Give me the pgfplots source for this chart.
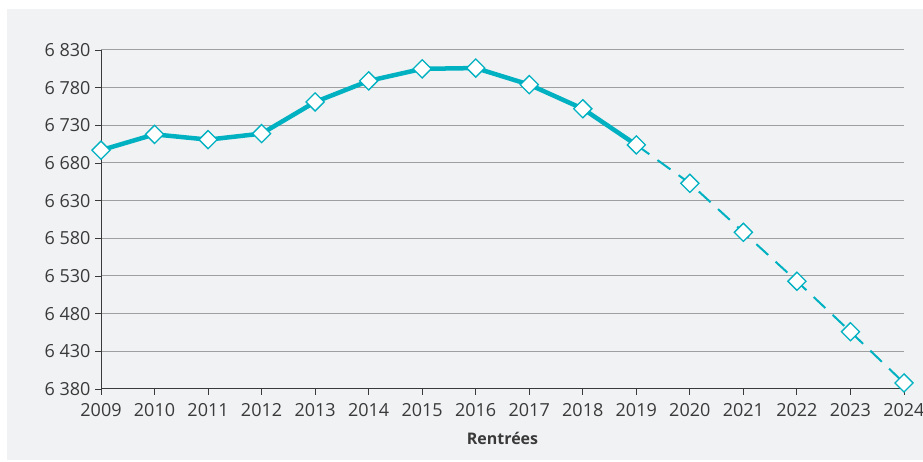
\documentclass[border=0pt]{standalone}
\usepackage{pgfplots}
\pgfplotsset{compat=1.18}
\usepackage{fontspec}
\setmainfont{Open Sans}
\definecolor{bg}{HTML}{F1F2F4}
\definecolor{teal}{HTML}{00B1C1}
\definecolor{txt}{HTML}{3A3A3A}
\begin{document}
\begin{tikzpicture}[x=1pt,y=1pt]
\path[use as bounding box] (0,0) rectangle (923,462);
\fill[bg] (7,2) rectangle (923,453);
\begin{axis}[
  at={(101pt,73pt)}, anchor=south west,
  scale only axis, width=803pt, height=339pt,
  xmin=2009, xmax=2024, ymin=6380, ymax=6830,
  xtick={2009,...,2024}, ytick={6380,6430,...,6830},
  axis x line*=bottom, axis y line*=left,
  axis line style={txt, line width=1pt},
  tick style={txt, line width=0.8pt},
  major tick length=6pt,
  tick align=outside,
  ymajorgrids, grid style={gray!75, line width=1pt},
  x tick label style={/pgf/number format/1000 sep={}, yshift=-5pt},
  y tick label style={/pgf/number format/1000 sep={\ }, xshift=-1pt},
  /pgf/number format/assume math mode=true,
  ticklabel style={font=\fontsize{18}{21}\selectfont, text=txt},
  xlabel={\textbf{Rentrées}},
  xlabel style={font=\fontsize{16}{19}\selectfont, text=txt, yshift=-9pt},
  clip=false,
]
\addplot[teal, line width=2pt, dash pattern=on 16pt off 10pt] coordinates {
(2019,6704) (2020,6653) (2021,6588) (2022,6523) (2023,6456) (2024,6388)};
\addplot[teal, line width=4.5pt, line join=round] coordinates {
(2009,6697) (2010,6718) (2011,6711) (2012,6719) (2013,6761) (2014,6789) (2015,6805) (2016,6806) (2017,6784) (2018,6752) (2019,6704)};
\addplot[only marks, mark=square*, mark size=6.4pt, mark options={rotate=45, fill=white, draw=teal, line width=1.3pt}] coordinates {
(2009,6697) (2010,6718) (2011,6711) (2012,6719) (2013,6761) (2014,6789) (2015,6805) (2016,6806) (2017,6784) (2018,6752) (2019,6704)
(2020,6653) (2021,6588) (2022,6523) (2023,6456) (2024,6388)};
\end{axis}
\end{tikzpicture}
\end{document}
